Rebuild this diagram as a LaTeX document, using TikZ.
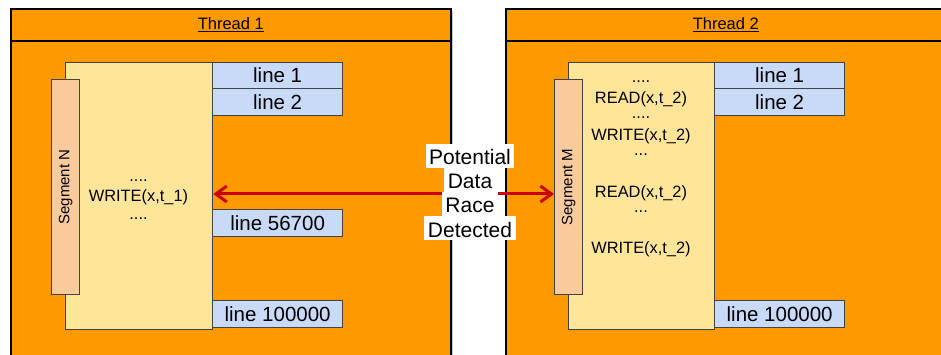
\documentclass[tikz,border=0pt]{standalone}
\usepackage{fontspec}
\setmainfont{Liberation Sans}
\usetikzlibrary{arrows.meta}
\definecolor{orng}{HTML}{FF9900}
\definecolor{yel}{HTML}{FFE599}
\definecolor{segc}{HTML}{F9CB9C}
\definecolor{blu}{HTML}{C9DAF8}
\definecolor{edge}{HTML}{434343}
\definecolor{racered}{HTML}{CC0000}
\begin{document}
\begin{tikzpicture}[x=1pt,y=-1pt,
  threadbox/.style={draw=black,line width=1.6pt,fill=orng,anchor=north west,
    minimum width=440pt,minimum height=420pt,inner sep=0pt},
  hdr/.style={draw=black,line width=1.6pt,fill=orng,anchor=north west,
    minimum width=440pt,minimum height=32pt,inner sep=0pt,
    font=\fontsize{16.5}{20}\selectfont},
  codebox/.style={draw=edge,line width=1.3pt,fill=yel,anchor=north west,
    minimum height=267pt,inner sep=0pt},
  segbar/.style={draw=edge,line width=1.3pt,fill=segc,anchor=north west,
    minimum width=28pt,minimum height=215pt,inner sep=0pt},
  segtext/.style={rotate=90,font=\fontsize{15}{18}\selectfont},
  linebox/.style={draw=edge,line width=1.3pt,fill=blu,anchor=north west,
    minimum width=130pt,inner sep=0pt,font=\fontsize{20.5}{24}\selectfont},
  code/.style={anchor=base,inner sep=0pt,font=\fontsize{16.4}{19}\selectfont},
  racerow/.style={fill=white,anchor=base,inner xsep=3.5pt,inner ysep=0pt,
    text height=21pt,text depth=3pt,font=\fontsize{21}{24}\selectfont},
  racearrow/.style={draw=racered,line width=3pt,
    -{Straight Barb[length=11pt,width=16pt,line width=3pt]}}
]
\useasboundingbox (0,0) rectangle (941,355);
\clip (0,0) rectangle (941,355);
\fill[white] (0,0) rectangle (941,355);

% ---------- Thread 1 ----------
\fill[gray!45] (13,11) rectangle (453,420);
\node[threadbox] (th1) at (10,8) {};
\node[hdr] (th1h) at (10,8) {\underline{Thread 1}};

\node[codebox,minimum width=147pt] (y1) at (65,62) {};
\node[segbar] (sN) at (51,79) {};
\node[segtext] (sNt) at (sN.center) {Segment N};

\node[linebox,minimum height=26pt] (a1) at (212,62) {line 1};
\node[linebox,minimum height=27pt] (a2) at (212,88) {line 2};
\node[linebox,minimum height=27pt] (a3) at (212,209) {line 56700};
\node[linebox,minimum height=27pt] (a4) at (212,300) {line 100000};

\node[code] (c1) at (138.5,181.5) {....};
\node[code] (c2) at (138.5,202) {WRITE(x,t\_1)};
\node[code] (c3) at (138.5,219) {....};

% ---------- Thread 2 ----------
\node[threadbox] (th2) at (505,8) {};
\node[hdr] (th2h) at (505,8) {\underline{Thread 2}};

\node[codebox,minimum width=146pt] (y2) at (568,62) {};
\node[segbar] (sM) at (554,79) {};
\node[segtext] (sMt) at (sM.center) {Segment M};

\node[linebox,minimum height=26pt] (b1) at (714,62) {line 1};
\node[linebox,minimum height=27pt] (b2) at (714,88) {line 2};
\node[linebox,minimum height=27pt] (b3) at (714,300) {line 100000};

\node[code] (d1) at (641,83) {....};
\node[code] (d2) at (641,103.5) {READ(x,t\_2)};
\node[code] (d3) at (641,119) {....};
\node[code] (d4) at (641,140.7) {WRITE(x,t\_2)};
\node[code] (d5) at (641,155.5) {...};
\node[code] (d6) at (641,197.3) {READ(x,t\_2)};
\node[code] (d7) at (641,212) {...};
\node[code] (d8) at (641,253.3) {WRITE(x,t\_2)};

% ---------- race connector and its label ----------
\coordinate (mid) at (470,194);
\draw[racearrow] (mid) -- (y1.east |- mid);
\draw[racearrow] (mid) -- (sM.west |- mid);

\node[racerow] (r1) at (470,165) {Potential};
\node[racerow] (r2) at (470,189) {Data};
\node[racerow] (r3) at (470,213) {Race};
\node[racerow] (r4) at (470,237) {Detected};
\end{tikzpicture}
\end{document}
